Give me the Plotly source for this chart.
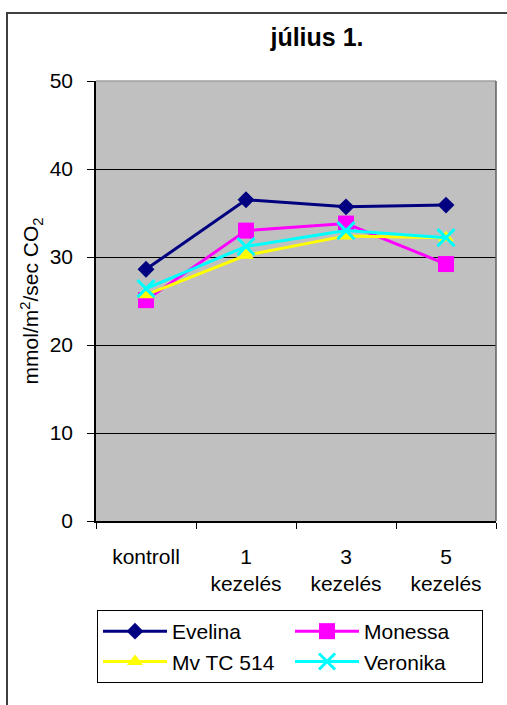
import plotly.graph_objects as go

categories = ["kontroll", "1<br>kezelés", "3<br>kezelés", "5<br>kezelés"]
evelina = [28.6, 36.5, 35.7, 35.9]
monessa = [25.1, 33.0, 33.8, 29.2]
mvtc514 = [25.7, 30.2, 32.4, 32.2]
veronika = [26.4, 31.2, 33.0, 32.2]
y_ticks = [0, 10, 20, 30, 40, 50]

W, H = 507, 705
L, R, T, B = 96, 496, 81, 521  # plot area pixel edges

def px_x(x):
    return (x - L) / (R - L)

def px_y(y):
    return (B - y) / (B - T)

FAM = "Liberation Sans, Arial, sans-serif"
font = dict(family=FAM, size=21, color="black")

fig = go.Figure()
series = [
    ("Evelina", evelina, "#000080", "diamond", 13),
    ("Monessa", monessa, "#FF00FF", "square", 16),
    ("Mv TC 514", mvtc514, "#FFFF00", "triangle-up", 14),
    ("Veronika", veronika, "#00FFFF", "x-thin", 17),
]
for name, vals, col, sym, size in series:
    marker = dict(symbol=sym, size=size, color=col)
    if sym == "x-thin":
        marker["line"] = dict(color=col, width=3)
    else:
        marker["line"] = dict(color=col, width=0)
    fig.add_trace(go.Scatter(
        x=categories, y=vals, name=name, mode="lines+markers",
        line=dict(color=col, width=3), marker=marker,
    ))

shapes = [
    # outer chart border
    dict(type="rect", xref="paper", yref="paper",
         x0=px_x(7), x1=px_x(530), y0=px_y(730), y1=px_y(13),
         line=dict(color="#404040", width=2), layer="above"),
    # plot-area border (top and right)
    dict(type="line", xref="paper", yref="paper", x0=0, x1=1, y0=1, y1=1,
         line=dict(color="#A0A0A0", width=1.5), layer="above"),
    dict(type="line", xref="paper", yref="paper", x0=1, x1=1, y0=0, y1=1,
         line=dict(color="#606060", width=1.5), layer="above"),
]

fig.update_layout(
    width=W, height=H,
    margin=dict(l=L, r=W - R, t=T, b=H - B, pad=0),
    paper_bgcolor="white",
    plot_bgcolor="#C0C0C0",
    font=font,
    showlegend=True,
    hovermode=False,
    title=dict(text="<b>július 1.</b>", xref="container", x=317 / W, xanchor="center",
               y=1 - 37 / H, yanchor="middle",
               font=dict(family=FAM, size=25, color="black")),
    xaxis=dict(
        type="category", range=[-0.5, 3.5], tickson="boundaries",
        ticks="outside", ticklen=6, tickcolor="black", tickwidth=1,
        showline=True, linecolor="black", linewidth=1.5,
        showgrid=False, tickfont=font, ticklabelstandoff=16,
    ),
    yaxis=dict(
        range=[0, 50], tickvals=y_ticks, ticks="outside", ticklen=7,
        tickcolor="black", showline=True, linecolor="black", linewidth=1.5,
        showgrid=True, gridcolor="black", gridwidth=1, zeroline=False,
        tickfont=font, ticklabelstandoff=10,
        title=dict(text="mmol/m<sup>2</sup>/sec CO<sub>2</sub>", font=font, standoff=5),
    ),
    legend=dict(
        orientation="h", x=px_x(97), xanchor="left", y=px_y(610), yanchor="top",
        bordercolor="black", borderwidth=1, bgcolor="white",
        entrywidth=113, entrywidthmode="pixels",
        font=dict(family=FAM, size=21, color="black"),
        itemwidth=64,
    ),
    shapes=shapes,
)

fig.write_html("out.html", config={"displayModeBar": False},
               post_script="document.body.style.margin='0px';")
